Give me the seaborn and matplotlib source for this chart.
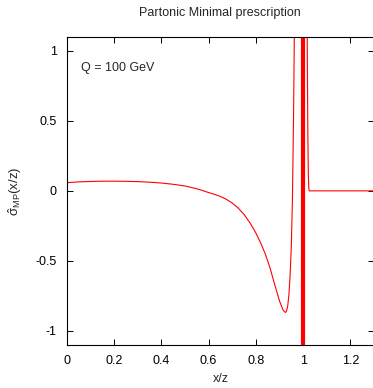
import matplotlib
matplotlib.use("Agg")
import matplotlib.pyplot as plt
import seaborn as sns
import pandas as pd

# lado esquerdo do pico (x/z < 1)
x_esq = [0.0, 0.05, 0.1, 0.15, 0.2, 0.25, 0.3, 0.35, 0.4, 0.45, 0.5, 0.55,
         0.575, 0.6, 0.625, 0.65, 0.675, 0.7, 0.725, 0.75, 0.775, 0.8, 0.82,
         0.84, 0.86, 0.88, 0.9, 0.915, 0.925, 0.93, 0.935, 0.94, 0.945, 0.95,
         0.955, 0.96, 0.965]
y_esq = [0.058, 0.064, 0.067, 0.069, 0.069, 0.068, 0.066, 0.062, 0.056, 0.047,
         0.035, 0.015, 0.002, -0.012, -0.025, -0.04, -0.06, -0.087, -0.122,
         -0.168, -0.228, -0.3, -0.37, -0.45, -0.55, -0.67, -0.785, -0.85,
         -0.868, -0.857, -0.82, -0.74, -0.6, -0.4, -0.05, 0.6, 1.5]

# lado direito (x/z > 1)
x_dir = [1.016, 1.018, 1.02, 1.022, 1.024, 1.026, 1.05, 1.1, 1.2, 1.3]
y_dir = [1.5, 0.9, 0.4, 0.12, 0.02, 0.0, 0.0, 0.0, 0.0, 0.0]

# delta em x/z = 1
x_delta = [1.0]

xticks = [0, 0.2, 0.4, 0.6, 0.8, 1.0, 1.2]
xtick_labels = ["0", "0.2", "0.4", "0.6", "0.8", "1", "1.2"]
yticks = [1, 0.5, 0, -0.5, -1]
ytick_labels = ["1", "0.5", "0", "-0.5", "-1"]

sns.set_style("ticks")
plt.rcParams["font.family"] = ["Liberation Sans", "DejaVu Sans"]
plt.rcParams["mathtext.fontset"] = "custom"
plt.rcParams["mathtext.rm"] = "Liberation Sans"
plt.rcParams["mathtext.default"] = "regular"

df_esq = pd.DataFrame({"x": x_esq, "y": y_esq})
df_dir = pd.DataFrame({"x": x_dir, "y": y_dir})

fig = plt.figure(figsize=(3.73, 3.88), dpi=100)
ax = fig.add_axes([0.1788, 0.1108, 0.8240, 0.7946])

sns.lineplot(data=df_esq, x="x", y="y", color="red", linewidth=0.8,
             sort=False, estimator=None, ax=ax)
sns.lineplot(data=df_dir, x="x", y="y", color="red", linewidth=0.8,
             sort=False, estimator=None, ax=ax)
for xd in x_delta:
    ax.axvline(xd, color="red", linewidth=3.0)

ax.set_xlim(0, 1.3)
ax.set_ylim(-1.1, 1.1)
ax.set_xticks(xticks)
ax.set_xticklabels(xtick_labels)
ax.set_yticks(yticks)
ax.set_yticklabels(ytick_labels)
ax.tick_params(direction="in", top=True, right=True, length=4, width=0.7,
               labelsize=9, pad=7, colors="black")
for s in ax.spines.values():
    s.set_linewidth(0.8)
    s.set_color("black")

ax.set_xlabel("x/z", fontsize=9)
ax.xaxis.set_label_coords(0.5, -0.09)
ax.set_ylabel(r"$\hat{\sigma}_{MP}(x/z)$", fontsize=9.5)
ax.yaxis.set_label_coords(-0.14, 0.5)

ax.text(0.046, 0.898, "Q = 100 GeV", transform=ax.transAxes, fontsize=9,
        ha="left", va="center")
fig.text(220 / 373, 1 - 13 / 388, "Partonic Minimal prescription",
         fontsize=9, ha="center", va="center")

fig.savefig("out.png", dpi=100)
